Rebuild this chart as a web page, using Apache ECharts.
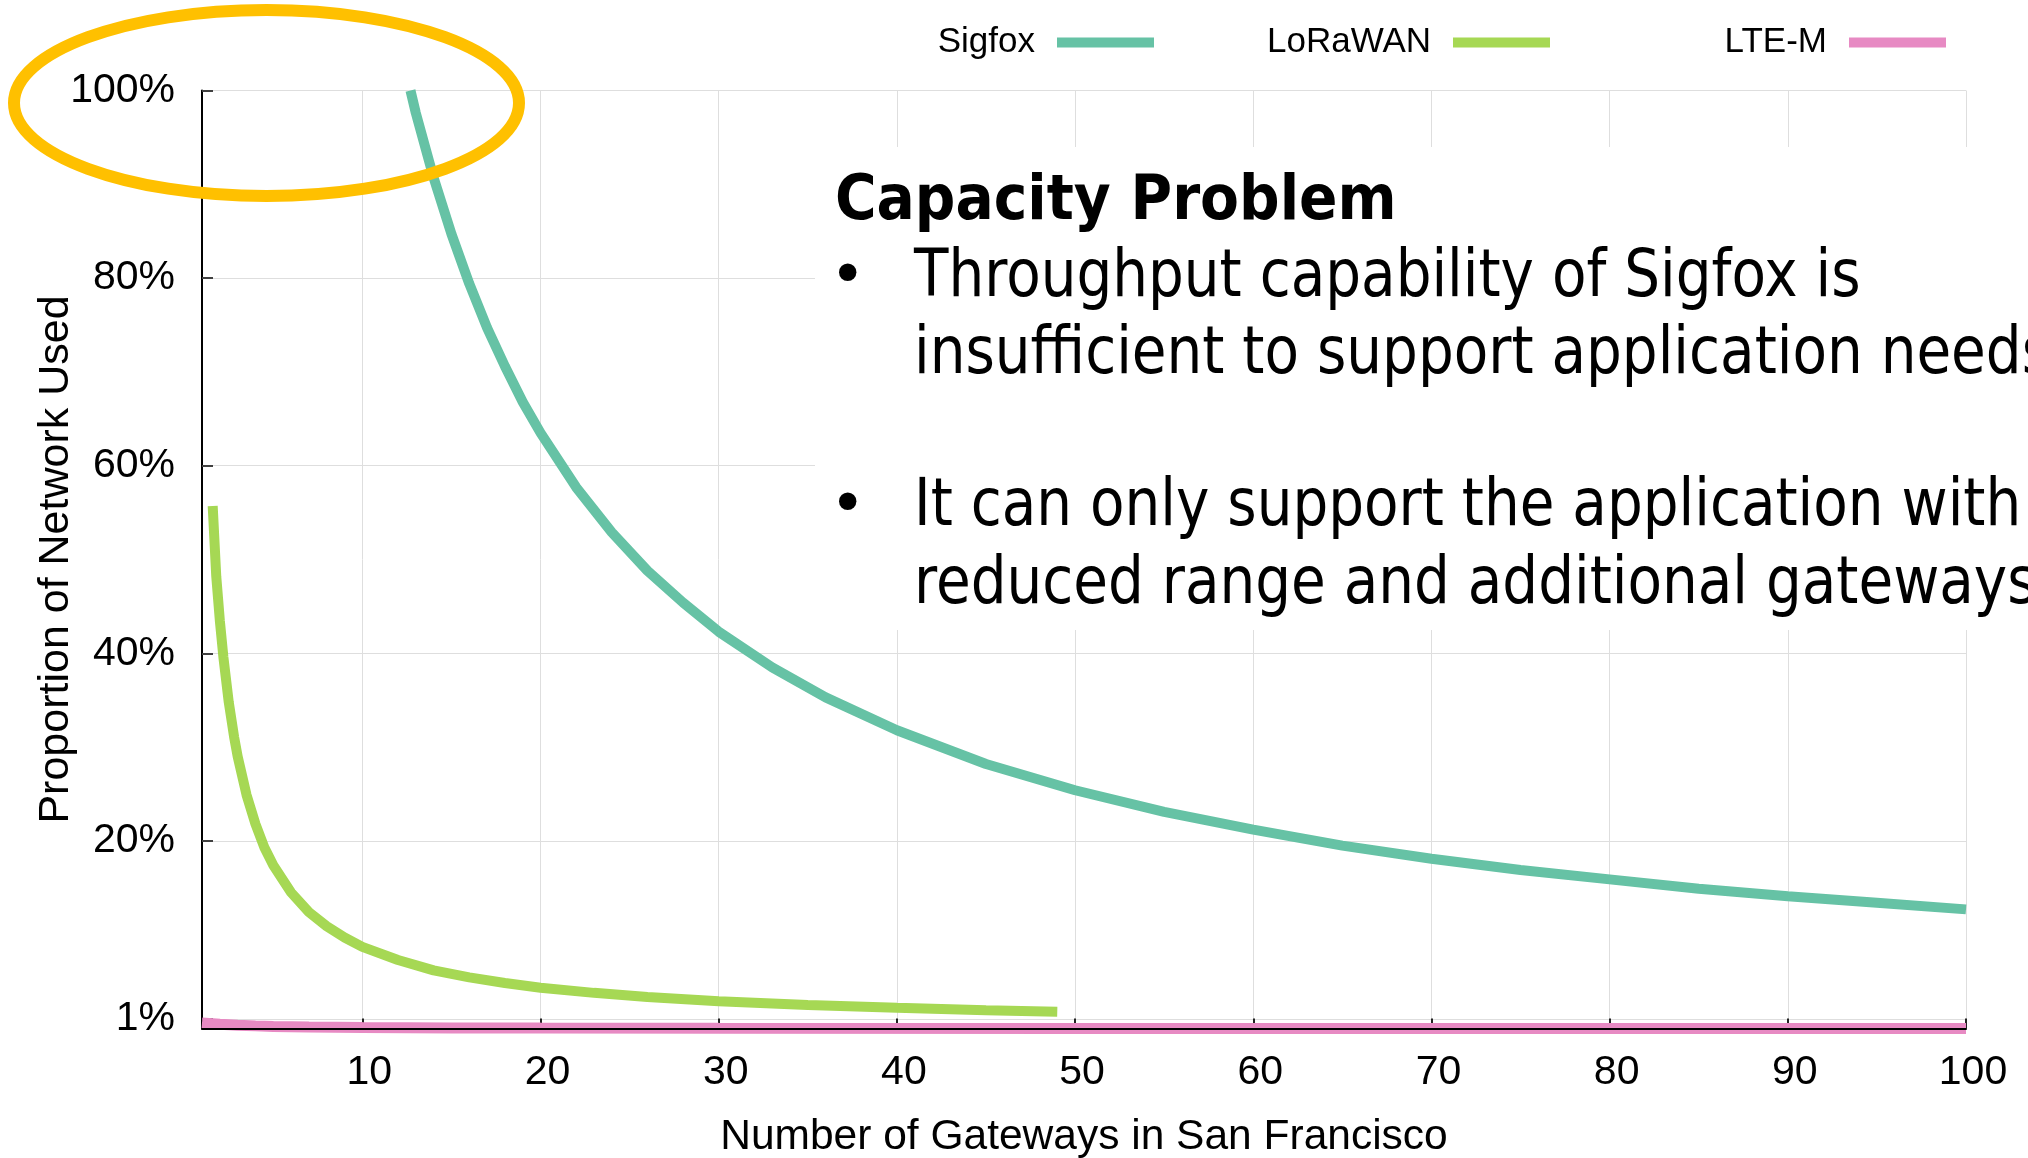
<!DOCTYPE html>
<html>
<head>
<meta charset="utf-8">
<script src="https://cdn.jsdelivr.net/npm/echarts@6/dist/echarts.min.js"></script>
<style>html,body{margin:0;padding:0;background:#fff}#c{width:2028px;height:1158px}</style>
</head>
<body>
<div id="c"></div>
<script>
// ---- data ----
const seriesNames = ['Sigfox', 'LoRaWAN', 'LTE-M'];
const seriesColors = ['#66c2a5', '#a6d854', '#e78ac3'];
const xTickValues = [10, 20, 30, 40, 50, 60, 70, 80, 90, 100];
const yTickValues = [1, 20, 40, 60, 80, 100];
const xAxisTitle = 'Number of Gateways in San Francisco';
const yAxisTitle = 'Proportion of Network Used';

const sigfox = [
  [12.7, 100], [13, 97.6], [14, 90.7], [15, 84.7], [16, 79.4], [17, 74.7], [18, 70.6],
  [19, 66.8], [20, 63.5], [22, 57.7], [24, 52.9], [26, 48.8], [28, 45.4], [30, 42.3],
  [33, 38.5], [36, 35.3], [40, 31.8], [45, 28.2], [50, 25.4], [55, 23.1], [60, 21.2],
  [65, 19.5], [70, 18.1], [75, 16.9], [80, 15.9], [85, 14.9], [90, 14.1], [95, 13.4],
  [100, 12.7]
];
const lorawan = [
  [1.6, 55.7], [1.8, 48.2], [2, 43.5], [2.2, 39.6], [2.5, 34.8], [2.8, 31.1], [3, 29],
  [3.5, 24.9], [4, 21.8], [4.5, 19.3], [5, 17.4], [6, 14.5], [7, 12.4], [8, 10.9],
  [9, 9.7], [10, 8.7], [12, 7.3], [14, 6.2], [16, 5.45], [18, 4.85], [20, 4.35],
  [23, 3.8], [26, 3.35], [30, 2.9], [35, 2.5], [40, 2.2], [45, 1.95], [49, 1.78]
];
const lteM = [
  [1, 0.6], [2, 0.45], [3, 0.35], [4, 0.28], [5, 0.22], [7, 0.15], [10, 0.1],
  [15, 0.06], [20, 0.04], [30, 0.02], [50, 0.01], [100, 0]
];

const noteTitle = 'Capacity Problem';
const noteLines = [
  'Throughput capability of Sigfox is',
  'insufficient to support application needs',
  'It can only support the application with',
  'reduced range and additional gateways'
];
const noteBullets = [true, false, true, false];

// ---- chart ----
const FONT = '"Liberation Sans", Arial, sans-serif';
const NOTE_FONT = '"DejaVu Sans", Verdana, sans-serif';
const chart = echarts.init(document.getElementById('c'), null, {renderer: 'canvas'});

const legendCommon = {
  orient: 'horizontal', align: 'right', icon: 'rect', itemWidth: 97, itemHeight: 10,
  top: 25, padding: 0, itemGap: 0,
  textStyle: {fontSize: 35, fontFamily: FONT, color: '#000', padding: [0, 17, 0, 0]}
};
const legendRights = [874, 478, 82];

const lineY = [279, 355.7, 508.5, 585.7];
const noteGraphics = [
  {type: 'rect', shape: {x: 815, y: 147, width: 1213, height: 483}, style: {fill: '#fff'}, z: 50, silent: true},
  {type: 'text', x: 835, y: 203, scaleX: 0.9, z: 51,
    style: {text: noteTitle, fontSize: 63, fontWeight: 'bold', fontFamily: NOTE_FONT, fill: '#000', verticalAlign: 'middle'}}
];
noteLines.forEach((t, i) => {
  noteGraphics.push({type: 'text', x: 914, y: lineY[i], scaleX: 0.868, z: 51,
    style: {text: t, fontSize: 65, fontFamily: NOTE_FONT, fill: '#000', verticalAlign: 'middle'}});
  if (noteBullets[i]) {
    noteGraphics.push({type: 'text', x: 830, y: lineY[i], z: 51,
      style: {text: '•', fontSize: 60, fontFamily: NOTE_FONT, fill: '#000', verticalAlign: 'middle'}});
  }
});
noteGraphics.push({type: 'ellipse', shape: {cx: 266.5, cy: 103, rx: 252.5, ry: 93},
  style: {fill: 'none', stroke: '#FFC000', lineWidth: 12}, z: 100, silent: true});

const option = {
  backgroundColor: '#fff',
  animation: false,
  color: seriesColors,
  textStyle: {fontFamily: FONT},
  legend: seriesNames.map((n, i) => Object.assign({}, legendCommon, {data: [n], right: legendRights[i]})),
  grid: {left: 202, right: 62, top: 90.5, bottom: 129.5, containLabel: false, outerBoundsMode: 'none'},
  xAxis: [{
    type: 'value', min: 1, max: 100, position: 'bottom',
    name: xAxisTitle, nameLocation: 'middle', nameGap: 87,
    nameTextStyle: {fontSize: 42.5, color: '#000', fontFamily: FONT},
    axisLine: {show: false, onZero: false},
    axisTick: {show: true, inside: true, length: 10, customValues: xTickValues, lineStyle: {color: '#222', width: 2}},
    axisLabel: {customValues: xTickValues, fontSize: 41, color: '#000', fontFamily: FONT, margin: 24, padding: [0, 0, 0, 14]},
    splitLine: {show: true, lineStyle: {color: '#dedede', width: 1}}
  }, {
    type: 'value', min: 1, max: 100, position: 'bottom', z: 5,
    axisLine: {show: true, onZero: false, lineStyle: {color: '#000', width: 2}},
    axisTick: {show: false}, axisLabel: {show: false}, splitLine: {show: false}
  }],
  yAxis: {
    type: 'value', min: 0, max: 100,
    name: yAxisTitle, nameLocation: 'middle', nameGap: 124, nameMoveOverlap: false,
    nameTextStyle: {fontSize: 43, color: '#000', fontFamily: FONT},
    axisLine: {show: true, onZero: false, lineStyle: {color: '#000', width: 2}},
    axisTick: {show: true, inside: true, length: 11, customValues: yTickValues, lineStyle: {color: '#404040', width: 2}},
    axisLabel: {customValues: yTickValues, formatter: '{value}%', fontSize: 41, color: '#000', fontFamily: FONT, margin: 27},
    splitLine: {show: true, lineStyle: {color: '#dedede', width: 1}}
  },
  series: [
    {name: seriesNames[0], type: 'line', data: sigfox, showSymbol: false, z: 4,
      lineStyle: {width: 10, color: seriesColors[0], cap: 'butt'}, itemStyle: {color: seriesColors[0]}},
    {name: seriesNames[1], type: 'line', data: lorawan, showSymbol: false, z: 3,
      lineStyle: {width: 10, color: seriesColors[1], cap: 'butt'}, itemStyle: {color: seriesColors[1]}},
    {name: seriesNames[2], type: 'line', data: lteM, showSymbol: false, z: 2,
      lineStyle: {width: 11, color: seriesColors[2], cap: 'butt'}, itemStyle: {color: seriesColors[2]}}
  ],
  graphic: noteGraphics
};
chart.setOption(option);
</script>
</body>
</html>
